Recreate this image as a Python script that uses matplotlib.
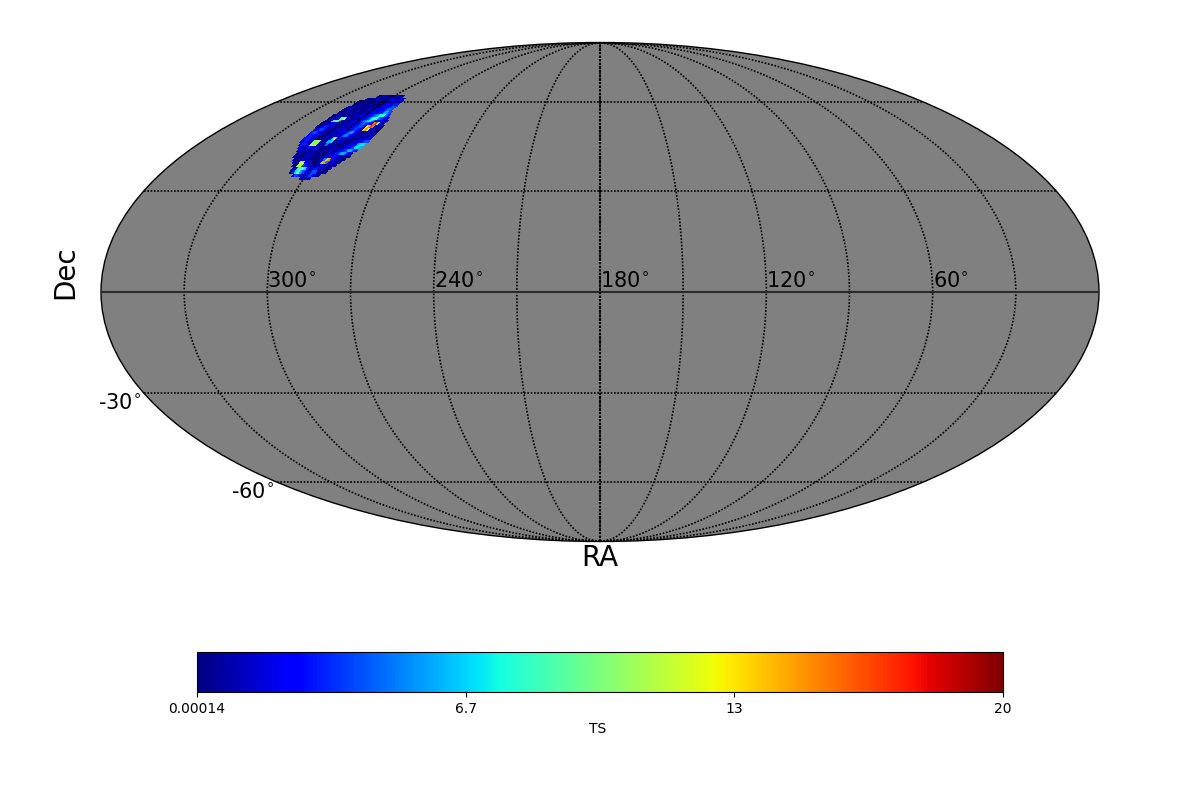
import numpy as np
import matplotlib
matplotlib.use("Agg")
import matplotlib.pyplot as plt

# TS map: one row per Dec (62 down to 34 deg), one char per RA (316 down to 284 deg).
# Each char is the TS value in base 36; '.' = no data.
TS_ROWS = [
    "........00111100001111",
    "....000011110001112210011",
    "..001111000111000112221122",
    "..001110001110001111222233",
    ".00011100111000111122222344",
    ".00111001110001111222223454",
    ".001100111000111122222334664",
    "00110011100111122222345688853",
    "001113" + "9ab" + "2100" + "11122" + "234" + "6898" + "54321",
    "0011" + "89a7" + "21001" + "11222" + "34568" + "7532" + "2211",
    "001112" + "21100" + "011122" + "22345" + "43" + "32" + "gha" + "21",
    "001" + "233" + "21100" + "011122" + "2234" + "432" + "cfhg" + "2110",
    "." + "1234" + "32110" + "011122" + "22234" + "321" + "efc" + "21100",
    "." + "3442" + "21100" + "011112" + "22" + "456" + "32111" + "100110",
    "." + "233" + "21100" + "001111" + "22" + "455" + "32111" + "1001111",
    "." + "233" + "21100" + "00112" + "7d" + "4321" + "11100" + "0111222",
    "." + "223" + "211" + "9ba" + "210" + "667" + "3211" + "10001" + "1122344",
    ".." + "233" + "21" + "aba" + "210" + "35" + "21100" + "00111" + "223677",
    "..." + "2211" + "232" + "21100" + "01111" + "00112" + "234776",
    "...." + "211110" + "01110" + "01111" + "01223" + "46643",
    "....." + "11001" + "11100" + "11111" + "12346" + "6421",
    "....." + "11001" + "11100" + "01112" + "22321" + "1100",
    "......" + "10011" + "11000" + "112" + "5ef" + "321100",
    "......." + "100" + "bb" + "210" + "0011" + "ef5" + "21100",
    "........" + "00" + "bc" + "4321" + "2111" + "211001",
    "........." + "02" + "89973" + "1223" + "11001",
    "........." + "03" + "79642" + "2344" + "1100",
    "..........." + "24311334210",
    "..............." + "1221",
]
RA_FIRST, RA_LAST = 316, 284
DEC_FIRST, DEC_LAST = 62, 34
VMIN, VMAX = 0.00014, 20.0

RA_TICKS = [300, 240, 180, 120, 60]
DEC_TICKS = [-30, -60]
CBAR_TICKS = [0.00014, 6.67, 13.33, 20.0]
CBAR_LABELS = ["0.00014", "6.7", "13", "20"]

ts = np.full((len(TS_ROWS), RA_FIRST - RA_LAST + 1), np.nan)
for i, row in enumerate(TS_ROWS):
    for j, ch in enumerate(row):
        if ch != ".":
            ts[i, j] = int(ch, 36)
ts = np.ma.masked_invalid(ts)

ra_edges = np.arange(RA_FIRST + 0.5, RA_LAST - 1, -1.0)
dec_edges = np.arange(DEC_FIRST + 0.5, DEC_LAST - 1, -1.0)
lon = np.radians(180.0 - ra_edges)
lat = np.radians(dec_edges)

fig = plt.figure(figsize=(12, 8), dpi=100)
ax = fig.add_axes([101 / 1200, 1 - 542 / 800, 998 / 1200, 500 / 800], projection="mollweide")
ax.set_facecolor("#808080")

cmap = plt.get_cmap("jet").copy()
mesh = ax.pcolormesh(lon, lat, ts, cmap=cmap, vmin=VMIN, vmax=VMAX,
                     shading="flat", antialiased=False, linewidth=0, zorder=2)

ax.set_longitude_grid(30)
ax.set_latitude_grid(30)
ax.set_longitude_grid_ends(90)
ax.xaxis.set_ticklabels([])
ax.yaxis.set_ticklabels([])
ax.grid(True, color="black", linestyle=(0, (1, 1.0)), linewidth=1.2, zorder=3)
ax.set_axisbelow(False)

eq = np.radians(np.linspace(-180, 180, 361))
ax.plot(eq, np.zeros_like(eq), color="#2a2a2a", lw=1.5, zorder=4)
mer = np.radians(np.linspace(-90, 90, 181))
ax.plot(np.zeros_like(mer), mer, color="black", lw=1.5, linestyle=(0, (1, 0.8)), zorder=4)

for ra in RA_TICKS:
    ax.text(np.radians(180 - ra), np.radians(0.3), f"{ra}$^{{\\circ}}$",
            ha="left", va="bottom", fontsize=15, zorder=5)
for dec in DEC_TICKS:
    ax.annotate(f"{dec}$^{{\\circ}}$", xy=(np.radians(-180), np.radians(dec)),
                xytext=(-1.8, 0), textcoords="offset points",
                ha="right", va="top", fontsize=15, zorder=5)

for s in ax.spines.values():
    s.set_edgecolor("black")
    s.set_linewidth(1.0)

fig.text(600 / 1200, 1 - 558 / 800, "RA", fontsize=20, ha="center", va="center")
fig.text(65 / 1200, 1 - 272 / 800, "Dec", fontsize=20, ha="center", va="center", rotation=90)

cax = fig.add_axes([197 / 1200, 1 - 692 / 800, 806 / 1200, 40 / 800])
cb = fig.colorbar(mesh, cax=cax, orientation="horizontal")
cb.set_ticks(CBAR_TICKS)
cb.set_ticklabels(CBAR_LABELS)
cb.ax.tick_params(labelsize=10)
fig.text(597.5 / 1200, 1 - 729 / 800, "TS", fontsize=10, ha="center", va="center")

fig.savefig("out.png", dpi=100)
